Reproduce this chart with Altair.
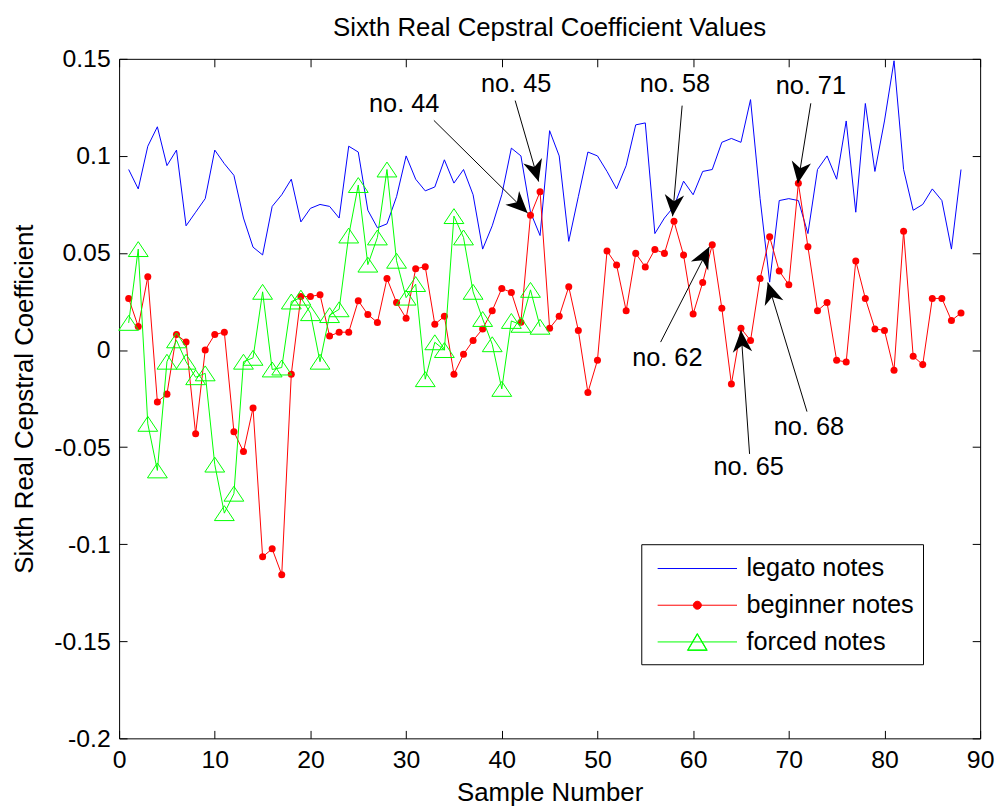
import math
import altair as alt
import pandas as pd

# ---------------- data ----------------
SAMPLES = list(range(1, 89))
LEGATO = [0.093, 0.083, 0.105, 0.115, 0.095, 0.103, 0.064, 0.071, 0.078, 0.103,
          0.096, 0.090, 0.068, 0.053, 0.049, 0.074, 0.080, 0.088, 0.066, 0.073,
          0.075, 0.074, 0.068, 0.105, 0.102, 0.072, 0.063, 0.065, 0.079, 0.100,
          0.088, 0.082, 0.084, 0.098, 0.086, 0.093, 0.080, 0.052, 0.064, 0.080,
          0.104, 0.100, 0.071, 0.059, 0.113, 0.100, 0.056, 0.079, 0.102, 0.100,
          0.092, 0.083, 0.095, 0.116, 0.117, 0.060, 0.068, 0.074, 0.087, 0.080,
          0.092, 0.093, 0.107, 0.109, 0.107, 0.129, 0.078, 0.035, 0.077, 0.078,
          0.077, 0.060, 0.093, 0.100, 0.088, 0.118, 0.071, 0.127, 0.092, 0.118,
          0.149, 0.093, 0.072, 0.075, 0.083, 0.077, 0.052, 0.093]
BEGINNER = [0.0266, 0.0121, 0.0377, -0.0267, -0.0227, 0.0080, 0.0041, -0.0431, 0.0000, 0.0080,
            0.0092, -0.0421, -0.0523, -0.0298, -0.1065, -0.1024, -0.1157, -0.0124, 0.0276, 0.0276,
            0.0285, 0.0072, 0.0092, 0.0092, 0.0254, 0.0183, 0.0142, 0.0368, 0.0245, 0.0164,
            0.0419, 0.0429, 0.0133, 0.0174, -0.0124, -0.0022, 0.0049, 0.0109, 0.0203, 0.0317,
            0.0297, 0.0143, 0.0694, 0.0816, 0.0112, 0.0174, 0.0326, 0.0101, -0.0218, -0.0053,
            0.0510, 0.0438, 0.0203, 0.0498, 0.0428, 0.0518, 0.0498, 0.0663, 0.0489, 0.0186,
            0.0348, 0.0543, 0.0215, -0.0175, 0.0112, 0.0049, 0.0368, 0.0583, 0.0407, 0.0336,
            0.0859, 0.0532, 0.0203, 0.0245, -0.0053, -0.0061, 0.0459, 0.0266, 0.0109, 0.0101,
            -0.0104, 0.0612, -0.0032, -0.0075, 0.0266, 0.0266, 0.0152, 0.0191]
FORCED_SAMPLES = list(range(1, 45))
FORCED = [0.014, 0.052, -0.038, -0.062, -0.006, 0.005, -0.006, -0.014, -0.012, -0.059,
          -0.084, -0.074, -0.006, -0.004, 0.030, -0.010, -0.009, 0.025, 0.027, 0.019,
          -0.006, 0.018, 0.021, 0.059, 0.085, 0.044, 0.058, 0.093, 0.046, 0.027,
          0.034, -0.015, 0.004, 0.000, 0.069, 0.058, 0.030, 0.016, 0.003, -0.020,
          0.015, 0.013, 0.031, 0.012]

SERIES = ["legato notes", "beginner notes", "forced notes"]
COLORS = ["#0000ff", "#ff0000", "#00ff00"]

ANN_LABEL = ["no. 44", "no. 45", "no. 58", "no. 71", "no. 62", "no. 65", "no. 68"]
ANN_TEXT_X = [29.8, 41.5, 58.1, 72.3, 57.3, 65.8, 72.1]
ANN_TEXT_Y = [0.1268, 0.137, 0.137, 0.136, -0.004, -0.0603, -0.0399]
ARROW_X0 = [32.9, 41.4, 58.85, 72.3, 56.6, 65.9, 71.9]
ARROW_Y0 = [0.1183, 0.1285, 0.1259, 0.1271, 0.0041, -0.0535, -0.0317]
ARROW_X1 = [42.7, 43.85, 57.85, 70.95, 61.7, 65.0, 67.8]
ARROW_Y1 = [0.0706, 0.0868, 0.0689, 0.0859, 0.0532, 0.0101, 0.0348]

X_TICKS = list(range(0, 91, 10))
Y_TICKS = [-0.2, -0.15, -0.1, -0.05, 0, 0.05, 0.1, 0.15]
XDOM = [0, 90]
YDOM = [-0.2, 0.15]

# ---------------- layout / style ----------------
W, H = 868, 685
TICK = 8
FONT = "Liberation Sans"
FS_TICK = 25
FS_TITLE = 26
FS_ANN = 25.5

df_leg = pd.DataFrame({"sample": SAMPLES, "value": LEGATO, "series": SERIES[0]})
df_beg = pd.DataFrame({"sample": SAMPLES, "value": BEGINNER, "series": SERIES[1]})
df_for = pd.DataFrame({"sample": FORCED_SAMPLES, "value": FORCED, "series": SERIES[2]})
df_all = pd.concat([df_leg, df_beg, df_for], ignore_index=True)

px_per_x = W / (XDOM[1] - XDOM[0])
px_per_y = H / (YDOM[1] - YDOM[0])
angles = []
for x0, y0, x1, y1 in zip(ARROW_X0, ARROW_Y0, ARROW_X1, ARROW_Y1):
    dx = (x1 - x0) * px_per_x
    dy = -(y1 - y0) * px_per_y
    angles.append(math.degrees(math.atan2(dx, -dy)) % 360)
df_ann = pd.DataFrame({"label": ANN_LABEL, "tx": ANN_TEXT_X, "ty": ANN_TEXT_Y,
                       "x0": ARROW_X0, "y0": ARROW_Y0, "x1": ARROW_X1, "y1": ARROW_Y1,
                       "angle": angles})

xs = alt.Scale(domain=XDOM, nice=False, zero=False)
ys = alt.Scale(domain=YDOM, nice=False, zero=False)
cscale = alt.Scale(domain=SERIES, range=COLORS)

y_fmt = "datum.value == 0 ? '0' : (datum.value < 0 ? '-' : '') + format(abs(datum.value), '.2~f')"

x_bottom = alt.Axis(orient="bottom", values=X_TICKS, offset=-TICK, tickSize=TICK, domain=False,
                    grid=False, labelPadding=9, labelFont=FONT, labelFontSize=FS_TICK,
                    labelColor="black", tickColor="black", tickWidth=1, title="Sample Number",
                    titleFont=FONT, titleFontSize=FS_TITLE, titleFontWeight="normal",
                    titleColor="black", titlePadding=8, labelFlush=False)
y_left = alt.Axis(orient="left", values=Y_TICKS, offset=-TICK, tickSize=TICK, domain=False,
                  grid=False, labelPadding=9, labelFont=FONT, labelFontSize=FS_TICK,
                  labelColor="black", tickColor="black", tickWidth=1, labelExpr=y_fmt,
                  title="Sixth Real Cepstral Coefficient", titleFont=FONT,
                  titleFontSize=FS_TITLE, titleFontWeight="normal", titleColor="black",
                  titlePadding=16, labelFlush=False)
x_top = alt.Axis(orient="top", values=X_TICKS, offset=-TICK, tickSize=TICK, domain=False,
                 grid=False, labels=False, tickColor="black", tickWidth=1, title=None)
y_right = alt.Axis(orient="right", values=Y_TICKS, offset=-TICK, tickSize=TICK, domain=False,
                   grid=False, labels=False, tickColor="black", tickWidth=1, title=None)

def X(axis=None):
    return alt.X("sample:Q", scale=xs, axis=axis)

def Y(axis=None):
    return alt.Y("value:Q", scale=ys, axis=axis)

col = alt.Color("series:N", scale=cscale, legend=None)

blue_line = alt.Chart(df_leg).mark_line(strokeWidth=1).encode(x=X(x_bottom), y=Y(y_left), color=col)
red_line = alt.Chart(df_beg).mark_line(strokeWidth=1).encode(x=X(x_top), y=Y(y_right), color=col)
red_pts = alt.Chart(df_beg).mark_point(filled=True, shape="circle", size=50, opacity=1).encode(
    x=X(), y=Y(), color=col)
green_line = alt.Chart(df_for).mark_line(strokeWidth=1).encode(x=X(), y=Y(), color=col)
TRI = "M0,-0.75L1,0.75L-1,0.75Z"
green_pts = alt.Chart(df_for).mark_point(filled=False, shape=TRI, size=400, strokeWidth=1,
                                         opacity=1).encode(x=X(), y=Y(), color=col)

arrows = alt.Chart(df_ann).mark_rule(color="black", strokeWidth=1).encode(
    x=alt.X("x0:Q", scale=xs, axis=None), y=alt.Y("y0:Q", scale=ys, axis=None),
    x2="x1:Q", y2="y1:Q")
HEAD = "M0,0L0.45,1L0,0.7L-0.45,1Z"
heads = alt.Chart(df_ann).mark_point(filled=True, shape=HEAD, size=1900, color="black",
                                     opacity=1, strokeWidth=0).encode(
    x=alt.X("x1:Q", scale=xs, axis=None), y=alt.Y("y1:Q", scale=ys, axis=None),
    angle=alt.Angle("angle:Q", scale=None))
texts = alt.Chart(df_ann).mark_text(font=FONT, fontSize=FS_ANN, color="black", align="center",
                                    baseline="middle").encode(
    x=alt.X("tx:Q", scale=xs, axis=None), y=alt.Y("ty:Q", scale=ys, axis=None), text="label:N")

# legend (symbols drawn by the legend itself; the carrier marks are invisible)
L = 2.667
LINE = f"M-{L},0L{L},0"
circ = "".join(f"M-{r},0A{r},{r},0,1,0,{r},0A{r},{r},0,1,0,-{r},0" for r in [0.27, 0.2, 0.13, 0.06])
# hollow triangle: outer outline plus an inner outline wound the other way (a thin ring)
TRI_RING = ("M0,-0.567L0.667,0.567L-0.667,0.567Z"
            "M0,-0.515L-0.615,0.537L0.615,0.537Z")
LEG_SHAPES = [LINE, LINE + circ, LINE + TRI_RING]
leg = alt.Legend(title=None, orient="none", legendX=526.4, legendY=489.3,
                 strokeColor="black", fillColor="white", padding=9,
                 labelFont=FONT, labelFontSize=FS_ANN, labelColor="black", labelLimit=400,
                 symbolSize=900, symbolStrokeWidth=1, symbolOpacity=1,
                 symbolFillColor="transparent",
                 symbolOffset=32, labelOffset=34, rowPadding=8, cornerRadius=0)
legend_layer = alt.Chart(df_all).mark_point(filled=False, opacity=0, strokeWidth=1).encode(
    x=X(), y=Y(),
    stroke=alt.Stroke("series:N", scale=cscale, legend=leg),
    shape=alt.Shape("series:N", scale=alt.Scale(domain=SERIES, range=LEG_SHAPES), legend=leg))

chart = alt.layer(legend_layer, blue_line, red_line, red_pts, green_line, green_pts, arrows,
                  heads, texts).resolve_axis(x="independent", y="independent").properties(
    width=W, height=H,
    title=alt.Title("Sixth Real Cepstral Coefficient Values", font=FONT, fontSize=FS_TITLE,
                    fontWeight="normal", color="black", anchor="middle", offset=6),
    autosize=alt.AutoSizeParams(type="none"),
    padding={"left": 112, "top": 48, "right": 18, "bottom": 72},
    background="white",
).configure_view(stroke="black", strokeWidth=1)

chart.save("out.html", embed_options={"renderer": "svg", "actions": False})
